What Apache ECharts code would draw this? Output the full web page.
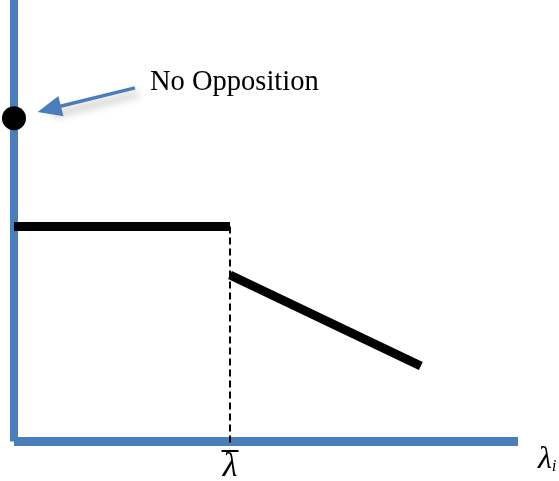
<!DOCTYPE html>
<html>
<head>
<meta charset="utf-8">
<script src="https://cdn.jsdelivr.net/npm/echarts@6/dist/echarts.min.js"></script>
<style>
  html, body { margin: 0; padding: 0; background: #fff; }
  #chart { width: 559px; height: 481px; }
</style>
</head>
<body>
<div id="chart"></div>
<script>
// schematic values (x: lambda, y: payoff)
var flatLine = [[0, 4.87], [3, 4.87]];
var slopeLine = [[3, 3.77], [5.65, 1.71]];
var dashLine = [[3, 4.87], [3, -0.1]];
var dotPoint = [[0, 7.32]];
var arrowFrom = [1.68, 8.01];
var arrowTo = [0.49, 7.53];
var lambdaBar = 3;

var blue = '#4a7ebb';
var serif = 'Liberation Serif';

var chart = echarts.init(document.getElementById('chart'));
var option = {
    animation: false,
    grid: {
        left: 14,
        right: 41,
        top: 0,
        bottom: 39.5,
        outerBoundsMode: 'none',
        containLabel: false
    },
    xAxis: {
        type: 'value',
        min: 0,
        max: 7,
        splitLine: { show: false },
        axisTick: { show: false },
        axisLine: { lineStyle: { color: blue, width: 9, cap: 'butt' } },
        axisLabel: {
            showMinLabel: false,
            showMaxLabel: false,
            customValues: [lambdaBar],
            margin: 7,
            formatter: function () {
                return '{o| }\n{a|λ}';
            },
            rich: {
                o: { width: 17, height: 2, lineHeight: 5, backgroundColor: '#000', align: 'center' },
                a: { fontFamily: serif, fontStyle: 'italic', fontSize: 34, lineHeight: 28, color: '#000' }
            }
        },
        name: '{a|λ}{b|i}',
        nameLocation: 'end',
        nameGap: 20,
        nameTextStyle: {
            verticalAlign: 'top',
            padding: [2, 0, 0, 0],
            rich: {
                a: { fontFamily: serif, fontStyle: 'italic', fontSize: 32, color: '#000' },
                b: { fontFamily: serif, fontStyle: 'italic', fontSize: 17, color: '#000', padding: [14, 0, 0, 0] }
            }
        }
    },
    yAxis: {
        type: 'value',
        min: 0,
        max: 10,
        splitLine: { show: false },
        axisTick: { show: false },
        axisLabel: { show: false },
        axisLine: { lineStyle: { color: blue, width: 8, cap: 'butt' } }
    },
    series: [{
        type: 'line',
        data: flatLine,
        symbol: 'none',
        lineStyle: { color: '#000', width: 9, cap: 'butt' },
        z: 5
    }, {
        type: 'line',
        data: slopeLine,
        symbol: 'none',
        lineStyle: { color: '#000', width: 9, cap: 'butt' },
        z: 5
    }, {
        type: 'line',
        data: dashLine,
        symbol: 'none',
        clip: false,
        lineStyle: { color: '#000', width: 2, type: [7, 4] },
        z: 6
    }, {
        type: 'scatter',
        data: dotPoint,
        symbol: 'circle',
        symbolSize: 24,
        itemStyle: { color: '#000', opacity: 1 },
        clip: false,
        z: 7,
        markLine: {
            silent: true,
            symbol: ['none', 'triangle'],
            symbolSize: [21, 24],
            label: { show: false },
            lineStyle: {
                color: blue,
                width: 3.5,
                opacity: 1,
                type: 'solid',
                shadowBlur: 8,
                shadowColor: 'rgba(0,0,0,0.35)',
                shadowOffsetY: 6,
                shadowOffsetX: 3
            },
            data: [[{ coord: arrowFrom }, { coord: arrowTo }]]
        }
    }],
    graphic: [{
        type: 'text',
        left: 150,
        top: 68,
        style: {
            text: 'No Opposition',
            font: '28.5px "Liberation Serif"',
            fill: '#000'
        }
    }]
};
chart.setOption(option);
</script>
</body>
</html>
